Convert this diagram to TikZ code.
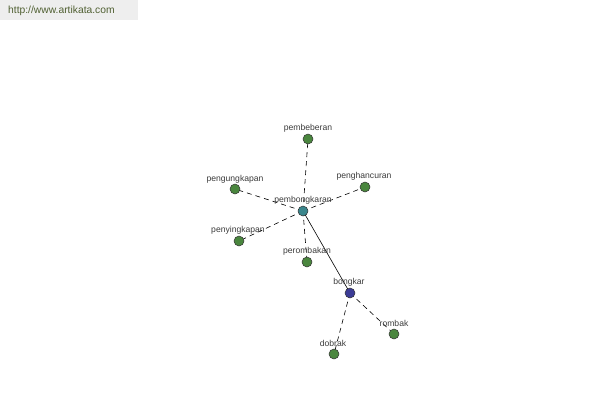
\documentclass[tikz,border=0pt]{standalone}
\usepackage{fontspec}
\setmainfont{Liberation Sans}
\definecolor{ngreen}{RGB}{74,134,62}
\definecolor{nteal}{RGB}{58,134,140}
\definecolor{nblue}{RGB}{60,60,150}
\definecolor{ltext}{RGB}{60,60,60}
\definecolor{wmbg}{RGB}{238,238,238}
\definecolor{wmtext}{RGB}{80,96,50}
\begin{document}
\begin{tikzpicture}[x=1pt,y=-1pt,
  dot/.style={circle,draw=black!80,line width=0.5pt,inner sep=0pt,minimum size=10pt},
  gdot/.style={dot,fill=ngreen},
  tdot/.style={dot,fill=nteal},
  bdot/.style={dot,fill=nblue},
  lbl/.style={font=\fontsize{8.6}{9}\selectfont,text=ltext,inner sep=0pt},
  dline/.style={draw=black,line width=0.6pt,dash pattern=on 5pt off 4pt},
  sline/.style={draw=black,line width=0.6pt}]
\useasboundingbox (0,0) rectangle (600,400);
\fill[white] (0,0) rectangle (600,400);
\fill[wmbg] (0,0) rectangle (138,20);
\node[anchor=west,inner sep=0pt,font=\fontsize{10.3}{11}\selectfont,text=wmtext] (wm) at (8,11) {http://www.artikata.com};
% coordinates of nodes
\coordinate (cP) at (303,211);
\coordinate (cA) at (308,139);
\coordinate (cB) at (235,189);
\coordinate (cC) at (365,187);
\coordinate (cD) at (239,241);
\coordinate (cE) at (307,262);
\coordinate (cK) at (350,293);
\coordinate (cR) at (394,334);
\coordinate (cO) at (334,354);
% edges
\draw[dline] (cP) -- (cA);
\draw[dline] (cP) -- (cB);
\draw[dline] (cP) -- (cC);
\draw[dline] (cP) -- (cD);
\draw[dline] (cP) -- (cE);
\draw[sline] (cP) -- (cK);
\draw[dline] (cK) -- (cR);
\draw[dline] (cK) -- (cO);
% nodes
\node[tdot] (P) at (cP) {};
\node[gdot] (A) at (cA) {};
\node[gdot] (B) at (cB) {};
\node[gdot] (C) at (cC) {};
\node[gdot] (D) at (cD) {};
\node[gdot] (E) at (cE) {};
\node[bdot] (K) at (cK) {};
\node[gdot] (R) at (cR) {};
\node[gdot] (O) at (cO) {};
% labels
\node[lbl] (lP) at (303,200) {pembongkaran};
\node[lbl] (lA) at (308,128) {pembeberan};
\node[lbl] (lB) at (235,179) {pengungkapan};
\node[lbl] (lC) at (364,176) {penghancuran};
\node[lbl] (lD) at (238,230) {penyingkapan};
\node[lbl] (lE) at (307,251) {perombakan};
\node[lbl] (lK) at (349,282) {bongkar};
\node[lbl] (lR) at (394,323) {rombak};
\node[lbl] (lO) at (333,343) {dobrak};
\end{tikzpicture}
\end{document}
